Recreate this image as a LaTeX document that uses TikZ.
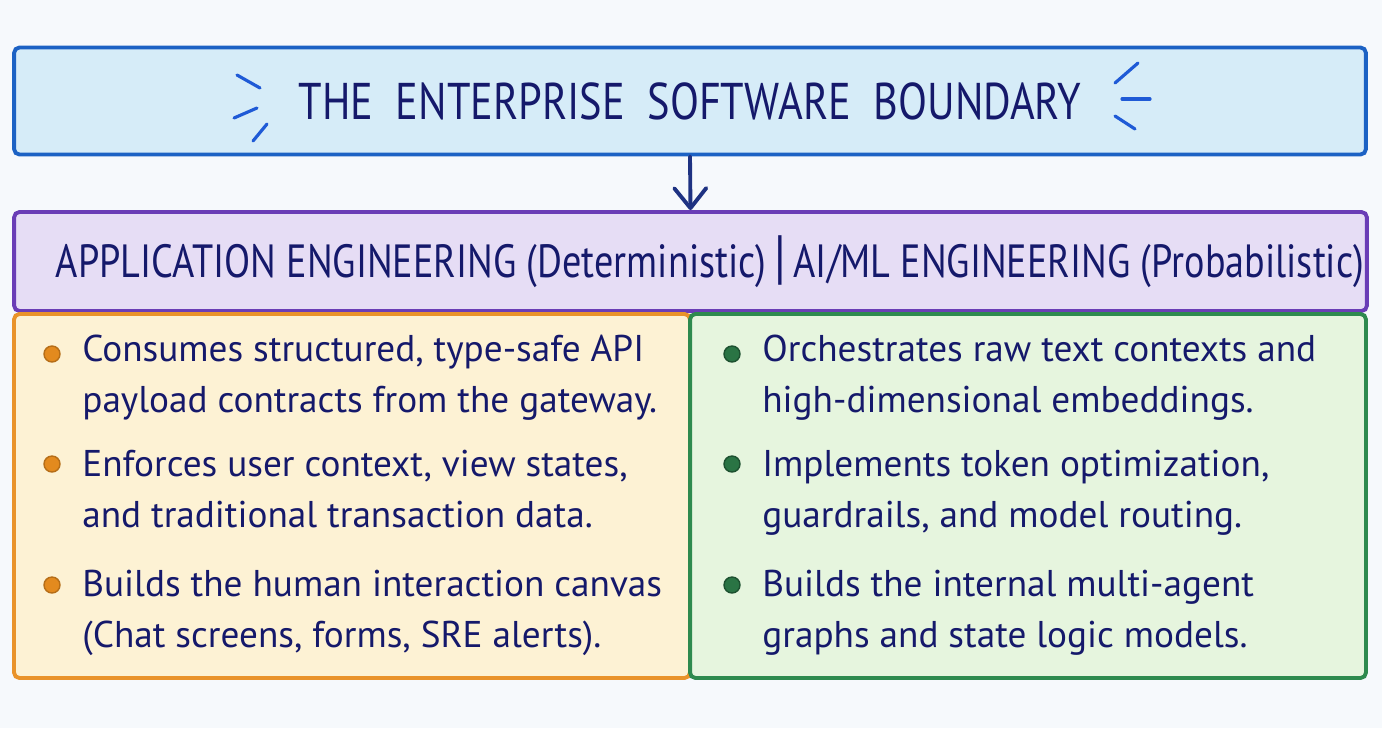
\documentclass[tikz,border=0pt]{standalone}
\usepackage{fontspec}
\setmainfont{PT Sans}
\newfontfamily\handcaps{PT Sans}[FakeStretch=0.82]
\usetikzlibrary{arrows.meta,positioning}

\definecolor{ink}{HTML}{15196B}
\definecolor{paper}{HTML}{F6F9FC}
\definecolor{titlefill}{HTML}{D6ECF8}
\definecolor{titleline}{HTML}{1C62C4}
\definecolor{markblue}{HTML}{1F5AD6}
\definecolor{headfill}{HTML}{E6DDF5}
\definecolor{headline}{HTML}{6A3DB6}
\definecolor{appfill}{HTML}{FDF2D4}
\definecolor{appline}{HTML}{E9932A}
\definecolor{aifill}{HTML}{E6F5DE}
\definecolor{ailine}{HTML}{2E8A4E}
\definecolor{appdot}{HTML}{E38A1E}
\definecolor{aidot}{HTML}{2A7444}
\definecolor{arrowink}{HTML}{1E3282}

\tikzset{
  box/.style={draw,line width=2.2pt,rounded corners=3pt,inner sep=0pt},
  item/.style={anchor=base west,align=left,inner sep=0pt,text=ink,
    font=\fontsize{21.2}{28.5}\selectfont},
  dot/.style={circle,inner sep=0pt,minimum size=0.32cm,line width=0.8pt},
  flick/.style={markblue,line width=1.8pt,line cap=round}
}

\begin{document}
\begin{tikzpicture}[x=0.02cm,y=-0.02cm]
  \fill[paper] (0,0) rectangle (1382,728);
  \useasboundingbox (0,0) rectangle (1382,728);

  % title bar
  \node (title) [box,draw=titleline,fill=titlefill,minimum width=27.04cm,minimum height=2.14cm,
    text=ink,font=\handcaps\fontsize{29.4}{32}\selectfont] at (690,101) {THE\ \ ENTERPRISE\ \ SOFTWARE\ \ BOUNDARY};
  \draw[flick] (237,75) -- (260,88);
  \draw[flick] (234,118) -- (257,108);
  \draw[flick] (253,141) -- (267,124);
  \draw[flick] (1115,83) -- (1138,63);
  \draw[flick] (1122,99) -- (1150,99);
  \draw[flick] (1115,116) -- (1135,129);

  % header bar
  \node (head) [box,draw=headline,fill=headfill,minimum width=27.06cm,minimum height=1.98cm] at (690.5,261.5) {};
  \node (headtext) [text=ink,inner sep=0pt,font=\handcaps\fontsize{26.5}{28}\selectfont] at (710,262)
    {APPLICATION ENGINEERING (Deterministic)\,{\fontsize{34}{34}\selectfont|}\,AI/ML ENGINEERING (Probabilistic)};

  \draw[arrowink,line width=2.2pt,line cap=round,
    -{Straight Barb[length=0.4cm,width=0.64cm,line cap=round,round]}] (title.south) -- (head.north);

  % two panels
  \node (app) [box,draw=appline,fill=appfill,minimum width=13.52cm,minimum height=7.28cm] at (352,496) {};
  \node (ai) [box,draw=ailine,fill=aifill,minimum width=13.52cm,minimum height=7.28cm] at (1028,496) {};

  % left bullets (base = last line)
  \node (a1) [item] at (82,412) {Consumes structured, type-safe API\\payload contracts from the gateway.};
  \node (a2) [item] at (82,527) {Enforces user context, view states,\\and traditional transaction data.};
  \node (a3) [item] at (82,647) {Builds the human interaction canvas\\(Chat screens, forms, SRE alerts).};
  \foreach \y/\n in {354/1,464/2,585/3}
    \node (ad\n) [dot,fill=appdot,draw=appdot!80!black] at (52,\y) {};

  % right bullets
  \node (b1) [item] at (762,412) {Orchestrates raw text contexts and\\high-dimensional embeddings.};
  \node (b2) [item] at (762,527) {Implements token optimization,\\guardrails, and model routing.};
  \node (b3) [item] at (762,647) {Builds the internal multi-agent\\graphs and state logic models.};
  \foreach \y/\n in {354/1,464/2,585/3}
    \node (bd\n) [dot,fill=aidot,draw=aidot!70!black] at (732,\y) {};
\end{tikzpicture}
\end{document}
